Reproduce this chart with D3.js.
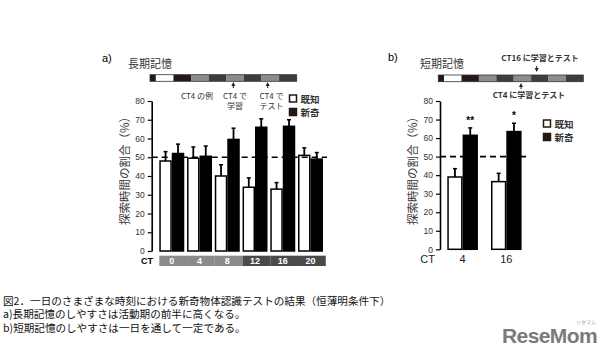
<!DOCTYPE html>
<html>
<head>
<meta charset="utf-8">
<script src="https://cdn.jsdelivr.net/npm/d3@7"></script>
<style>
  body { margin: 0; background: #fff; }
  svg { display: block; }
  text { font-family: "Liberation Sans", Arial, sans-serif; }
  .jp { font-family: "Noto Sans CJK JP", sans-serif; }
</style>
</head>
<body>
<svg id="fig" width="610" height="358"></svg>
<script>
// panel a: long term memory
var ctA = ["0", "4", "8", "12", "16", "20"];
var knownA = [48, 49.5, 40, 34, 33, 51];
var knownErrA = [5, 6, 6, 5, 3.5, 4];
var novelA = [52, 50.5, 59.5, 66, 66.5, 49];
var novelErrA = [5, 5.5, 6, 4.5, 3.5, 3.5];

// panel b: short term memory
var ctB = ["4", "16"];
var knownB = [39, 36.5];
var knownErrB = [4.5, 4.5];
var novelB = [61.5, 63.5];
var novelErrB = [4, 4.5];
var sigB = ["**", "*"];

var yTicks = [0, 10, 20, 30, 40, 50, 60, 70, 80];
var seriesNames = ["既知", "新奇"];

// light/dark schedule strip above each panel (hours per block)
var stripHours = [4, 12, 12, 12, 12, 12, 12, 12, 12];
var stripShade = ["#231815", "#ffffff", "#231815", "#8c8c8c", "#3d3d3d", "#8c8c8c", "#3d3d3d", "#8c8c8c", "#3d3d3d"];

var captionLines = [
    "図2．一日のさまざまな時刻における新奇物体認識テストの結果（恒薄明条件下）",
    "a)長期記憶のしやすさは活動期の前半に高くなる。",
    "b)短期記憶のしやすさは一日を通して一定である。"
];

var svg = d3.select("#fig");

function drawStrip(x0, x1, y0, h) {
    var cum = [0];
    stripHours.forEach(function (d, i) { cum.push(cum[i] + d); });
    var xs = d3.scaleLinear().domain([0, cum[cum.length - 1]]).range([x0, x1]);
    var g = svg.append("g");
    g.selectAll("rect")
        .data(stripHours)
        .enter().append("rect")
        .attr("x", function (d, i) { return xs(cum[i]); })
        .attr("y", y0)
        .attr("width", function (d, i) { return xs(cum[i + 1]) - xs(cum[i]); })
        .attr("height", h)
        .attr("fill", function (d, i) { return stripShade[i]; });
    g.append("rect")
        .attr("x", x0).attr("y", y0)
        .attr("width", x1 - x0).attr("height", h)
        .attr("fill", "none").attr("stroke", "#333").attr("stroke-width", 0.8);
    return xs;
}

function arrow(x, yTip, len, dir) {
    // dir = 1 pointing up, -1 pointing down
    var g = svg.append("g");
    g.append("path")
        .attr("d", "M" + x + "," + yTip + " l-2," + (4 * dir) + " l4,0 z")
        .attr("fill", "#222");
    g.append("line")
        .attr("x1", x).attr("x2", x)
        .attr("y1", yTip + 3 * dir).attr("y2", yTip + len * dir)
        .attr("stroke", "#222").attr("stroke-width", 1);
}

function drawPanel(opt) {
    var y = d3.scaleLinear().domain([0, 80]).range([opt.y0, opt.y80]);
    var x = d3.scaleBand().domain(opt.cts).range(opt.xr).paddingInner(opt.pad);
    var xs = d3.scaleBand().domain([0, 1]).range([0, x.bandwidth()]);

    var ax = svg.append("g")
        .attr("transform", "translate(" + opt.axisX + ",0)")
        .call(d3.axisLeft(y).tickValues(yTicks).tickSize(4).tickSizeOuter(0).tickPadding(3));
    ax.select(".domain").attr("stroke", "#000").attr("stroke-width", 1.6);
    ax.selectAll(".tick line").attr("stroke", "#000").attr("stroke-width", 1.2);
    ax.selectAll(".tick text").attr("font-size", 8.5).attr("fill", "#333")
        .attr("font-family", "Liberation Sans, Arial, sans-serif");

    // y label
    svg.append("text").attr("class", "jp")
        .attr("transform", "translate(" + opt.labelX + "," + 168 + ") rotate(-90)")
        .attr("text-anchor", "middle")
        .attr("font-size", 11.5).attr("fill", "#3a3a3a")
        .text("探索時間の割合（%）");

    var rows = opt.cts.map(function (c, i) {
        return {ct: c, vals: [opt.known[i], opt.novel[i]], errs: [opt.knownErr[i], opt.novelErr[i]]};
    });

    var grp = svg.append("g").selectAll("g")
        .data(rows)
        .enter().append("g")
        .attr("transform", function (d) { return "translate(" + x(d.ct) + ",0)"; });

    var bars = grp.selectAll("g")
        .data(function (d) { return d.vals.map(function (v, k) { return {k: k, v: v, e: d.errs[k]}; }); })
        .enter().append("g");

    bars.append("line")
        .attr("x1", function (d) { return xs(d.k) + xs.bandwidth() / 2; })
        .attr("x2", function (d) { return xs(d.k) + xs.bandwidth() / 2; })
        .attr("y1", function (d) { return y(d.v); })
        .attr("y2", function (d) { return y(d.v + d.e); })
        .attr("stroke", "#000").attr("stroke-width", 1.8);
    bars.append("line")
        .attr("x1", function (d) { return xs(d.k) + xs.bandwidth() / 2 - 2; })
        .attr("x2", function (d) { return xs(d.k) + xs.bandwidth() / 2 + 2; })
        .attr("y1", function (d) { return y(d.v + d.e); })
        .attr("y2", function (d) { return y(d.v + d.e); })
        .attr("stroke", "#000").attr("stroke-width", 1.5);
    bars.append("rect")
        .attr("x", function (d) { return xs(d.k) + 0.75; })
        .attr("y", function (d) { return y(d.v); })
        .attr("width", xs.bandwidth() - 1.5)
        .attr("height", function (d) { return y(0) - y(d.v); })
        .attr("fill", function (d) { return d.k === 0 ? "#fff" : "#000"; })
        .attr("stroke", "#000").attr("stroke-width", 1.5);

    // chance level
    svg.append("line")
        .attr("x1", opt.axisX).attr("x2", opt.dashEnd)
        .attr("y1", y(50)).attr("y2", y(50))
        .attr("stroke", "#000").attr("stroke-width", 1.6)
        .attr("stroke-dasharray", "6,4");

    // legend
    var lg = svg.append("g");
    seriesNames.forEach(function (s, i) {
        lg.append("rect")
            .attr("x", opt.legX).attr("y", opt.legY + i * 13.5)
            .attr("width", 7).attr("height", 7)
            .attr("fill", i === 0 ? "#fff" : "#231815")
            .attr("stroke", "#231815").attr("stroke-width", 1.5);
        lg.append("text").attr("class", "jp")
            .attr("x", opt.legX + 11).attr("y", opt.legY + 7.5 + i * 13.5)
            .attr("font-size", 9.5).attr("font-weight", "bold").attr("fill", "#333")
            .text(s);
    });

    return {x: x, y: y, xs: xs};
}

// ---------- panel a ----------
svg.append("text").attr("x", 102).attr("y", 62).attr("font-size", 11).text("a)");
svg.append("text").attr("class", "jp").attr("x", 128).attr("y", 68)
    .attr("font-size", 11).attr("fill", "#333").text("長期記憶");
drawStrip(150, 296.7, 74.7, 6.6);
arrow(233.3, 82, 6, 1);
arrow(267.7, 82, 6, 1);
var subA = [
    {x: 197, lines: ["CT4 の例"]},
    {x: 235, lines: ["CT4 で", "学習"]},
    {x: 271.5, lines: ["CT4 で", "テスト"]}
];
subA.forEach(function (s) {
    s.lines.forEach(function (t, j) {
        svg.append("text").attr("class", "jp")
            .attr("x", s.x).attr("y", 99 + j * 10)
            .attr("text-anchor", "middle").attr("font-size", 8).attr("fill", "#333")
            .text(t);
    });
});

var pa = drawPanel({
    cts: ctA, known: knownA, knownErr: knownErrA, novel: novelA, novelErr: novelErrA,
    y0: 251, y80: 101, xr: [159.3, 323], pad: 0.1, axisX: 151.7, labelX: 129,
    dashEnd: 327, legX: 289.5, legY: 95
});

// CT strip under panel a
var stepA = pa.x.step();
svg.append("g").selectAll("rect")
    .data(ctA)
    .enter().append("rect")
    .attr("x", function (d) { return pa.x(d); })
    .attr("y", 255.7)
    .attr("width", stepA)
    .attr("height", 10.3)
    .attr("fill", function (d) { return +d < 12 ? "#8a8a8a" : "#4a4a4a"; });
svg.append("g").selectAll("text")
    .data(ctA)
    .enter().append("text")
    .attr("x", function (d) { return pa.x(d) + stepA / 2 - 1.5; })
    .attr("y", 264.3)
    .attr("text-anchor", "middle")
    .attr("font-size", 9).attr("font-weight", "bold").attr("fill", "#fff")
    .text(function (d) { return d; });
svg.append("text").attr("x", 147).attr("y", 264.3).attr("text-anchor", "middle")
    .attr("font-size", 9).attr("font-weight", "bold").text("CT");

// ---------- panel b ----------
svg.append("text").attr("x", 388).attr("y", 61).attr("font-size", 11).text("b)");
svg.append("text").attr("class", "jp").attr("x", 420).attr("y", 68)
    .attr("font-size", 11).attr("fill", "#333").text("短期記憶");
drawStrip(438.3, 583.3, 75, 6.7);
arrow(536.7, 72, 6, -1);
arrow(521, 83, 6, 1);
svg.append("text").attr("class", "jp").attr("x", 540).attr("y", 61)
    .attr("text-anchor", "middle").attr("font-size", 8).attr("font-weight", "bold").attr("fill", "#333")
    .text("CT16 に学習とテスト");
svg.append("text").attr("class", "jp").attr("x", 529).attr("y", 98)
    .attr("text-anchor", "middle").attr("font-size", 8).attr("font-weight", "bold").attr("fill", "#333")
    .text("CT4 に学習とテスト");

var pb = drawPanel({
    cts: ctB, known: knownB, knownErr: knownErrB, novel: novelB, novelErr: novelErrB,
    y0: 249.3, y80: 101, xr: [447.3, 521.6], pad: 0.3, axisX: 440, labelX: 417,
    dashEnd: 528, legX: 543.5, legY: 120
});

svg.append("g").selectAll("text")
    .data(ctB)
    .enter().append("text")
    .attr("x", function (d) { return pb.x(d) + pb.x.bandwidth() / 2; })
    .attr("y", 263)
    .attr("text-anchor", "middle").attr("font-size", 11).attr("fill", "#222")
    .text(function (d) { return d; });
svg.append("text").attr("x", 427.7).attr("y", 263).attr("text-anchor", "middle")
    .attr("font-size", 11).attr("fill", "#222").text("CT");

svg.append("g").selectAll("text")
    .data(ctB)
    .enter().append("text")
    .attr("x", function (d) { return pb.x(d) + pb.xs(1) + pb.xs.bandwidth() / 2; })
    .attr("y", function (d, i) { return pb.y(novelB[i] + novelErrB[i]) - 4; })
    .attr("text-anchor", "middle").attr("font-size", 10).attr("font-weight", "bold")
    .text(function (d, i) { return sigB[i]; });

// ---------- caption ----------
captionLines.forEach(function (t, i) {
    svg.append("text").attr("class", "jp")
        .attr("x", 3).attr("y", 304.5 + i * 13.5)
        .attr("font-size", 10.6).attr("fill", "#111")
        .text(t);
});

// logo
svg.append("text").attr("x", 502).attr("y", 343)
    .attr("font-size", 21).attr("font-weight", "bold").attr("fill", "#7a7a7a")
    .attr("letter-spacing", -0.6)
    .text("ReseMom");
svg.append("text").attr("class", "jp").attr("x", 576).attr("y", 324)
    .attr("font-size", 5).attr("fill", "#999").text("リセマム");
</script>
</body>
</html>
